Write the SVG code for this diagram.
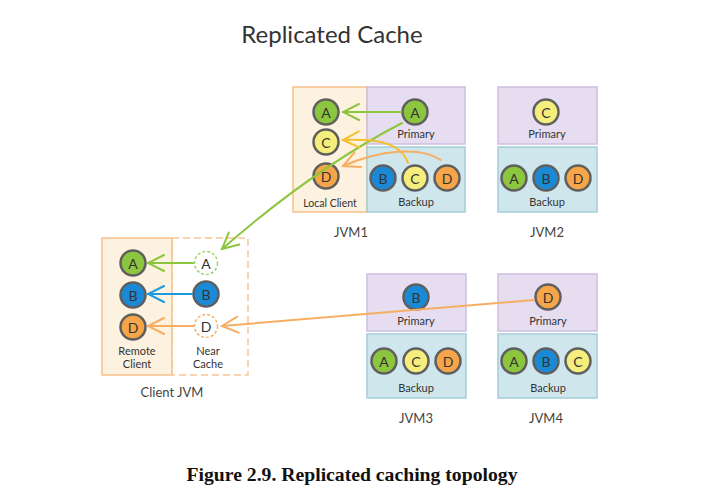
<svg xmlns="http://www.w3.org/2000/svg" width="702" height="493" viewBox="0 0 702 493">
<defs>
<style>
.lbl{font-family:"Lato","DejaVu Sans",sans-serif;font-size:11px;fill:#333;text-anchor:middle}
.jvm{font-family:"Lato","DejaVu Sans",sans-serif;font-size:13px;fill:#444;text-anchor:middle}
.ct{font-family:"Lato","DejaVu Sans",sans-serif;font-size:14px;fill:#333;text-anchor:middle;dominant-baseline:central}
.pri{fill:#e6def0;stroke:#cbbfe0;stroke-width:1.5}
.bak{fill:#cfe6ec;stroke:#a5cdd7;stroke-width:1.5}
.loc{fill:#fdf1df;stroke:#f6c08a;stroke-width:1.5}
.c{stroke:#5f5f5f;stroke-width:2.5}
.g{fill:#8cc63e}.b{fill:#1a8ad6}.y{fill:#f6ee7c}.o{fill:#f6a548}
.dg{fill:#fff;stroke:#9ed36a;stroke-width:1.5;stroke-dasharray:3 2}
.dgb{fill:#fff;stroke:#f5b46a;stroke-width:1.5;stroke-dasharray:3 2}
.arr{fill:none;stroke-width:2;stroke-linecap:round}
</style>
<marker id="mg" viewBox="0 0 20 20" refX="18" refY="10" markerWidth="20" markerHeight="20" markerUnits="userSpaceOnUse" orient="auto"><path d="M2,2 L18,10 L2,18" fill="none" stroke="#8cc63e" stroke-width="2" stroke-linecap="round"/></marker>
<marker id="mb" viewBox="0 0 20 20" refX="18" refY="10" markerWidth="20" markerHeight="20" markerUnits="userSpaceOnUse" orient="auto"><path d="M2,2 L18,10 L2,18" fill="none" stroke="#1a9ae0" stroke-width="2" stroke-linecap="round"/></marker>
<marker id="my" viewBox="0 0 20 20" refX="18" refY="10" markerWidth="20" markerHeight="20" markerUnits="userSpaceOnUse" orient="auto"><path d="M2,2 L18,10 L2,18" fill="none" stroke="#f5c030" stroke-width="2" stroke-linecap="round"/></marker>
<marker id="mo" viewBox="0 0 20 20" refX="18" refY="10" markerWidth="20" markerHeight="20" markerUnits="userSpaceOnUse" orient="auto"><path d="M2,2 L18,10 L2,18" fill="none" stroke="#f6ae62" stroke-width="2" stroke-linecap="round"/></marker>
</defs>
<rect width="702" height="493" fill="#fff"/>
<text x="332" y="43" font-family="Lato,'DejaVu Sans',sans-serif" font-size="24" fill="#333" text-anchor="middle">Replicated Cache</text>

<g id="jvm1">
<rect class="loc" x="293" y="87" width="74" height="125"/>
<rect class="pri" x="367" y="87" width="98" height="57"/>
<rect class="bak" x="367" y="147" width="98" height="65"/>
<circle class="c g" cx="326" cy="112" r="12.5"/><text class="ct" x="326" y="112">A</text>
<circle class="c y" cx="326" cy="142" r="12.5"/><text class="ct" x="326" y="142">C</text>
<circle class="c o" cx="326" cy="176" r="12.5"/><text class="ct" x="326" y="176">D</text>
<circle class="c g" cx="415" cy="112" r="12.5"/><text class="ct" x="415" y="112">A</text>
<text class="lbl" x="416" y="138">Primary</text>
<circle class="c b" cx="383" cy="178" r="12.5"/><text class="ct" x="383" y="178">B</text>
<circle class="c y" cx="415" cy="178" r="12.5"/><text class="ct" x="415" y="178">C</text>
<circle class="c o" cx="447" cy="178" r="12.5"/><text class="ct" x="447" y="178">D</text>
<text class="lbl" x="416" y="206">Backup</text>
<text class="lbl" x="330" y="207" style="font-size:10.5px">Local Client</text>
<text class="jvm" x="351" y="237">JVM1</text>
</g>

<g id="jvm2">
<rect class="pri" x="498" y="87" width="99" height="57"/>
<rect class="bak" x="498" y="147" width="99" height="65"/>
<circle class="c y" cx="546" cy="112" r="12.5"/><text class="ct" x="546" y="112">C</text>
<text class="lbl" x="547" y="138">Primary</text>
<circle class="c g" cx="514" cy="178" r="12.5"/><text class="ct" x="514" y="178">A</text>
<circle class="c b" cx="546" cy="178" r="12.5"/><text class="ct" x="546" y="178">B</text>
<circle class="c o" cx="578" cy="178" r="12.5"/><text class="ct" x="578" y="178">D</text>
<text class="lbl" x="547" y="206">Backup</text>
<text class="jvm" x="547" y="237">JVM2</text>
</g>

<g id="jvm3">
<rect class="pri" x="367" y="274" width="99" height="57"/>
<rect class="bak" x="367" y="334" width="99" height="64"/>
<circle class="c b" cx="416" cy="297" r="12.5"/><text class="ct" x="416" y="297">B</text>
<text class="lbl" x="416" y="325">Primary</text>
<circle class="c g" cx="384" cy="361" r="12.5"/><text class="ct" x="384" y="361">A</text>
<circle class="c y" cx="416" cy="361" r="12.5"/><text class="ct" x="416" y="361">C</text>
<circle class="c o" cx="448" cy="361" r="12.5"/><text class="ct" x="448" y="361">D</text>
<text class="lbl" x="416" y="392">Backup</text>
<text class="jvm" x="416" y="423">JVM3</text>
</g>

<g id="jvm4">
<rect class="pri" x="498" y="274" width="99" height="57"/>
<rect class="bak" x="498" y="334" width="99" height="64"/>
<circle class="c o" cx="548" cy="297" r="12.5"/><text class="ct" x="548" y="297">D</text>
<text class="lbl" x="548" y="325">Primary</text>
<circle class="c g" cx="514" cy="361" r="12.5"/><text class="ct" x="514" y="361">A</text>
<circle class="c b" cx="546" cy="361" r="12.5"/><text class="ct" x="546" y="361">B</text>
<circle class="c y" cx="578" cy="361" r="12.5"/><text class="ct" x="578" y="361">C</text>
<text class="lbl" x="548" y="392">Backup</text>
<text class="jvm" x="546" y="423">JVM4</text>
</g>

<g id="client-jvm">
<rect class="loc" x="102" y="238" width="70" height="137"/>
<rect x="172" y="238" width="76" height="137" fill="none" stroke="#f6c896" stroke-width="1.5" stroke-dasharray="7 4"/>
<circle class="c g" cx="133" cy="263" r="12.5"/><text class="ct" x="133" y="263">A</text>
<circle class="c b" cx="133" cy="295" r="12.5"/><text class="ct" x="133" y="295">B</text>
<circle class="c o" cx="133" cy="327" r="12.5"/><text class="ct" x="133" y="327">D</text>
<circle class="dg" cx="206" cy="263" r="11.5"/><text class="ct" x="206" y="263">A</text>
<circle class="c b" cx="206" cy="294" r="12.5"/><text class="ct" x="206" y="294">B</text>
<circle class="dgb" cx="206" cy="326" r="11.5"/><text class="ct" x="206" y="326">D</text>
<text class="lbl" x="137" y="355">Remote</text>
<text class="lbl" x="137" y="368">Client</text>
<text class="lbl" x="208" y="355">Near</text>
<text class="lbl" x="208" y="368">Cache</text>
<text class="jvm" x="172" y="397">Client JVM</text>
</g>

<g id="connectors">
<path class="arr" d="M401,112 L343,112" stroke="#8cc63e" marker-end="url(#mg)"/>
<path class="arr" d="M402,123 Q315,168 222,249" stroke="#8cc63e" marker-end="url(#mg)"/>
<path class="arr" d="M408,163 C400,140 370,139 343,140" stroke="#f5c030" marker-end="url(#my)"/>
<path class="arr" d="M441,160 C420,146 380,150 343,166" stroke="#f6ae62" marker-end="url(#mo)"/>
<path class="arr" d="M193,263 L148,263" stroke="#8cc63e" marker-end="url(#mg)"/>
<path class="arr" d="M192,294 L148,294" stroke="#1a9ae0" marker-end="url(#mb)"/>
<path class="arr" d="M193,326 L148,326" stroke="#f6ae62" marker-end="url(#mo)"/>
<path class="arr" d="M534,300 L222,326" stroke="#f6ae62" marker-end="url(#mo)"/>
</g>

<text x="352" y="481" font-family="'Liberation Serif',serif" font-weight="bold" font-size="19.7" fill="#111" text-anchor="middle">Figure 2.9. Replicated caching topology</text>
</svg>
